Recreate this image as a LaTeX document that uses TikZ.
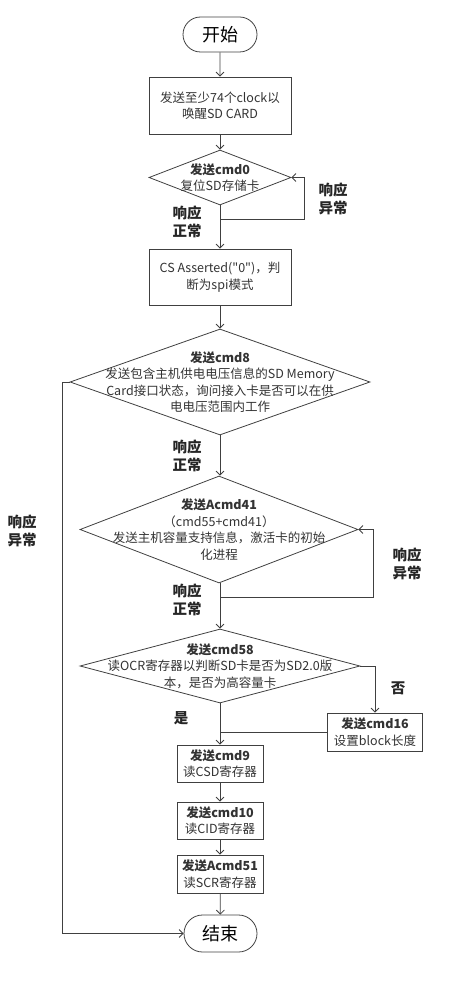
\documentclass[tikz,border=0pt]{standalone}
\usepackage{fontspec}
\setmainfont{Noto Sans CJK SC}[Ligatures=TeXOff]
\usetikzlibrary{shapes.geometric,shapes.misc,arrows.meta}
\tikzset{
  flowline/.style={draw=black!75,line width=0.8pt},
  flowarrow/.style={flowline,-{Straight Barb[length=4pt,width=8pt]}},
  flowbox/.style={flowline,rectangle,inner sep=0pt},
  flowdiamond/.style={flowline,diamond,inner sep=0pt},
  flowterm/.style={flowline,rounded rectangle,inner sep=0pt,
    font=\fontsize{18}{20}\selectfont},
  flowtext/.style={align=center,text=black!80,
    font=\fontsize{12.5}{16.5}\selectfont},
  flowlabel/.style={align=center,text=black!85,
    font=\fontsize{14.5}{18}\selectfont\bfseries}
}

\begin{document}
\begin{tikzpicture}[x=1pt,y=-1pt]
  \useasboundingbox (0,0) rectangle (448,1003);
  \node[flowterm,minimum width=74,minimum height=35] (start) at (220,34.5) {开始};
  \node[flowbox,flowtext,minimum width=142,minimum height=57] (wake) at (220,105.5)
    {发送至少74个clock以\\唤醒SD CARD};
  \node[flowdiamond,minimum width=142,minimum height=55] (cmdzero) at (220,177.5) {};
  \node[flowtext] (cmdzerotext) at (cmdzero) {\textbf{发送cmd0}\\复位SD存储卡};
  \node[flowbox,flowtext,minimum width=142,minimum height=56] (spimode) at (220,277)
    {CS Asserted("0")，判\\断为spi模式};
  \node[flowdiamond,minimum width=300,minimum height=106] (cmdeight) at (220,382) {};
  \node[flowtext] (cmdeighttext) at (cmdeight)
    {\textbf{发送cmd8}\\发送包含主机供电电压信息的SD Memory\\
     Card接口状态，询问接入卡是否可以在供\\电电压范围内工作};
  \node[flowdiamond,minimum width=278,minimum height=107] (acmd) at (219,529.5) {};
  \node[flowtext] (acmdtext) at (acmd)
    {\textbf{发送Acmd41}\\（cmd55+cmd41）\\发送主机容量支持信息，激活卡的初始\\化进程};
  \node[flowdiamond,minimum width=280,minimum height=74] (cmdocr) at (220,666) {};
  \node[flowtext] (cmdocrtext) at (cmdocr)
    {\textbf{发送cmd58}\\读OCR寄存器以判断SD卡是否为SD2.0版\\本，是否为高容量卡};
  \node[flowbox,flowtext,minimum width=95,minimum height=38] (cmdblk) at (375,732)
    {\textbf{发送cmd16}\\设置block长度};
  \node[flowbox,flowtext,minimum width=86,minimum height=37] (cmdcsd) at (220,763.5)
    {\textbf{发送cmd9}\\读CSD寄存器};
  \node[flowbox,flowtext,minimum width=86,minimum height=37] (cmdcid) at (220,820.5)
    {\textbf{发送cmd10}\\读CID寄存器};
  \node[flowbox,flowtext,minimum width=86,minimum height=38] (cmdscr) at (220,874)
    {\textbf{发送Acmd51}\\读SCR寄存器};
  \node[flowterm,minimum width=73,minimum height=37] (stop) at (220.5,933.5) {结束};
  % bends of the two retry loops and of the failure line
  \coordinate (zeroloop) at (304,219);
  \coordinate (acmdloop) at (373,597);
  \coordinate (failbend) at (62,382);
  \draw[flowarrow] (start) -- (wake);
  \draw[flowarrow] (wake) -- (cmdzero);
  \draw[flowarrow] (cmdzero) -- (spimode);
  \draw[flowarrow] (cmdzero.south |- zeroloop) -- (zeroloop) |- (cmdzero.east);
  \draw[flowarrow] (spimode) -- (cmdeight);
  \draw[flowarrow] (cmdeight.south) -- (cmdeight.south |- acmd.north);
  \draw[flowarrow] (cmdeight.west) -- (failbend) |- (stop.west);
  \draw[flowarrow] (acmd.south -| cmdeight.south) -- (cmdocr.north);
  \draw[flowarrow] (cmdocr.south |- acmdloop) -- (acmdloop) |- (acmd.east);
  \draw[flowarrow] (cmdocr) -- (cmdcsd);
  \draw[flowarrow] (cmdocr.east) -| (cmdblk.north);
  \draw[flowline] (cmdblk.west) -- (cmdblk.west -| cmdcsd.north);
  \draw[flowarrow] (cmdcsd) -- (cmdcid);
  \draw[flowarrow] (cmdcid) -- (cmdscr);
  \draw[flowarrow] (cmdscr) -- (stop);
  \node[flowlabel] (zerook) at (187,222) {响应\\正常};
  \node[flowlabel] (zerofail) at (333,199) {响应\\异常};
  \node[flowlabel] (eightok) at (187,456) {响应\\正常};
  \node[flowlabel] (eightfail) at (22,531) {响应\\异常};
  \node[flowlabel] (acmdfail) at (407,564) {响应\\异常};
  \node[flowlabel] (acmdok) at (187,600) {响应\\正常};
  \node[flowlabel] (ocrno) at (398,688) {否};
  \node[flowlabel] (ocryes) at (181,718) {是};
\end{tikzpicture}
\end{document}
